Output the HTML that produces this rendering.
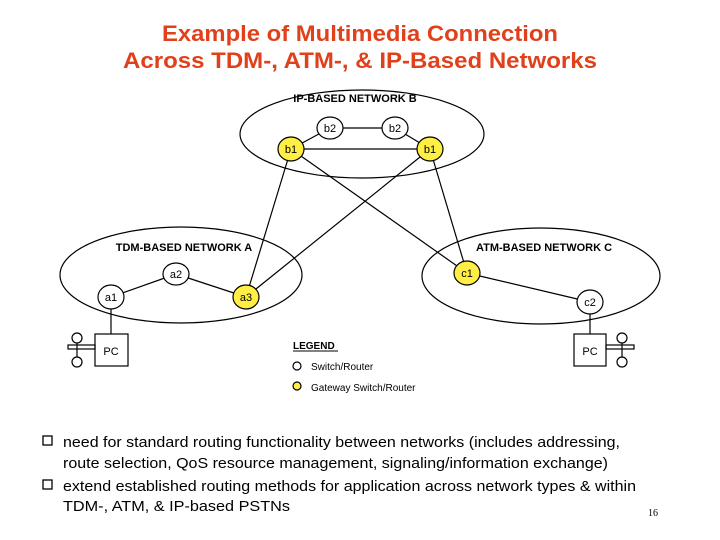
<!DOCTYPE html>
<html><head><meta charset="utf-8"><style>
html,body{margin:0;padding:0;background:#fff;}
svg{display:block;font-family:"Liberation Sans",Arial,sans-serif;}
</style></head><body>
<svg width="720" height="540" viewBox="0 0 720 540" xmlns="http://www.w3.org/2000/svg">
<rect width="720" height="540" fill="#fff"/>
<g fill="#e0401a" font-weight="bold" font-size="22" text-anchor="middle">
<text x="360" y="41" textLength="396" lengthAdjust="spacingAndGlyphs">Example of Multimedia Connection</text>
<text x="360" y="68" textLength="474" lengthAdjust="spacingAndGlyphs">Across TDM-, ATM-, &amp; IP-Based Networks</text>
</g>
<g fill="none" stroke="#000" stroke-width="1.2">
<ellipse cx="362" cy="134" rx="122" ry="44"/>
<ellipse cx="181" cy="275" rx="121" ry="48"/>
<ellipse cx="541" cy="276" rx="119" ry="48"/>
<line x1="291" y1="149" x2="330" y2="128"/>
<line x1="330" y1="128" x2="395" y2="128"/>
<line x1="395" y1="128" x2="430" y2="149"/>
<line x1="291" y1="149" x2="430" y2="149"/>
<line x1="291" y1="149" x2="246" y2="297"/>
<line x1="430" y1="149" x2="246" y2="297"/>
<line x1="291" y1="149" x2="467" y2="273"/>
<line x1="430" y1="149" x2="467" y2="273"/>
<line x1="111" y1="297" x2="176" y2="274"/>
<line x1="176" y1="274" x2="246" y2="297"/>
<line x1="467" y1="273" x2="590" y2="302"/>
<line x1="111" y1="297" x2="111" y2="334"/>
<line x1="590" y1="302" x2="590" y2="334"/>
<rect x="95" y="334" width="33" height="32"/>
<rect x="574" y="334" width="32" height="32"/>
<rect x="68" y="345" width="27" height="4"/>
<rect x="606" y="345" width="28" height="4"/>
<line x1="77" y1="343" x2="77" y2="357"/>
<line x1="622" y1="343" x2="622" y2="357"/>
<ellipse cx="77" cy="338" rx="5" ry="5"/>
<ellipse cx="77" cy="362" rx="5" ry="5"/>
<ellipse cx="622" cy="338" rx="5" ry="5"/>
<ellipse cx="622" cy="362" rx="5" ry="5"/>
</g>
<g stroke="#000" stroke-width="1.2">
<ellipse cx="330" cy="128" rx="13" ry="11" fill="#fff"/>
<ellipse cx="395" cy="128" rx="13" ry="11" fill="#fff"/>
<ellipse cx="291" cy="149" rx="13" ry="12" fill="#ffee44"/>
<ellipse cx="430" cy="149" rx="13" ry="12" fill="#ffee44"/>
<ellipse cx="111" cy="297" rx="13" ry="12" fill="#fff"/>
<ellipse cx="176" cy="274" rx="13" ry="11" fill="#fff"/>
<ellipse cx="246" cy="297" rx="13" ry="12" fill="#ffee44"/>
<ellipse cx="467" cy="273" rx="13" ry="12" fill="#ffee44"/>
<ellipse cx="590" cy="302" rx="13" ry="12" fill="#fff"/>
<ellipse cx="297" cy="366" rx="4" ry="4" fill="#fff"/>
<ellipse cx="297" cy="386" rx="4" ry="4" fill="#ffee44"/>
</g>
<g font-size="11" fill="#000" text-anchor="middle">
<text x="330" y="132">b2</text><text x="395" y="132">b2</text>
<text x="291" y="153">b1</text><text x="430" y="153">b1</text>
<text x="111" y="301">a1</text><text x="176" y="278">a2</text>
<text x="246" y="301">a3</text><text x="467" y="277">c1</text>
<text x="590" y="306">c2</text>
<text x="111" y="355">PC</text><text x="590" y="355">PC</text>
</g>
<g font-size="11" font-weight="bold" text-anchor="middle">
<text x="355" y="102">IP-BASED NETWORK B</text>
<text x="184" y="251">TDM-BASED NETWORK A</text>
<text x="544" y="251">ATM-BASED NETWORK C</text>
</g>
<text x="293" y="349" font-size="10" font-weight="bold">LEGEND</text>
<line x1="293" y1="351" x2="338" y2="351" stroke="#000" stroke-width="1"/>
<text x="311" y="370" font-size="10">Switch/Router</text>
<text x="311" y="391" font-size="10">Gateway Switch/Router</text>
<g fill="none" stroke="#000" stroke-width="1.3">
<rect x="43" y="436" width="9" height="9"/>
<rect x="43" y="480" width="9" height="9"/>
</g>
<g font-size="15" fill="#000">
<text x="63" y="447" textLength="557" lengthAdjust="spacingAndGlyphs">need for standard routing functionality between networks (includes addressing,</text>
<text x="63" y="468" textLength="545" lengthAdjust="spacingAndGlyphs">route selection, QoS resource management, signaling/information exchange)</text>
<text x="63" y="491" textLength="573" lengthAdjust="spacingAndGlyphs">extend established routing methods for application across network types &amp; within</text>
<text x="63" y="511" textLength="227" lengthAdjust="spacingAndGlyphs">TDM-, ATM, &amp; IP-based PSTNs</text>
</g>
<text x="648" y="516" font-size="10" font-family="Liberation Serif,serif">16</text>
</svg>
</body></html>
